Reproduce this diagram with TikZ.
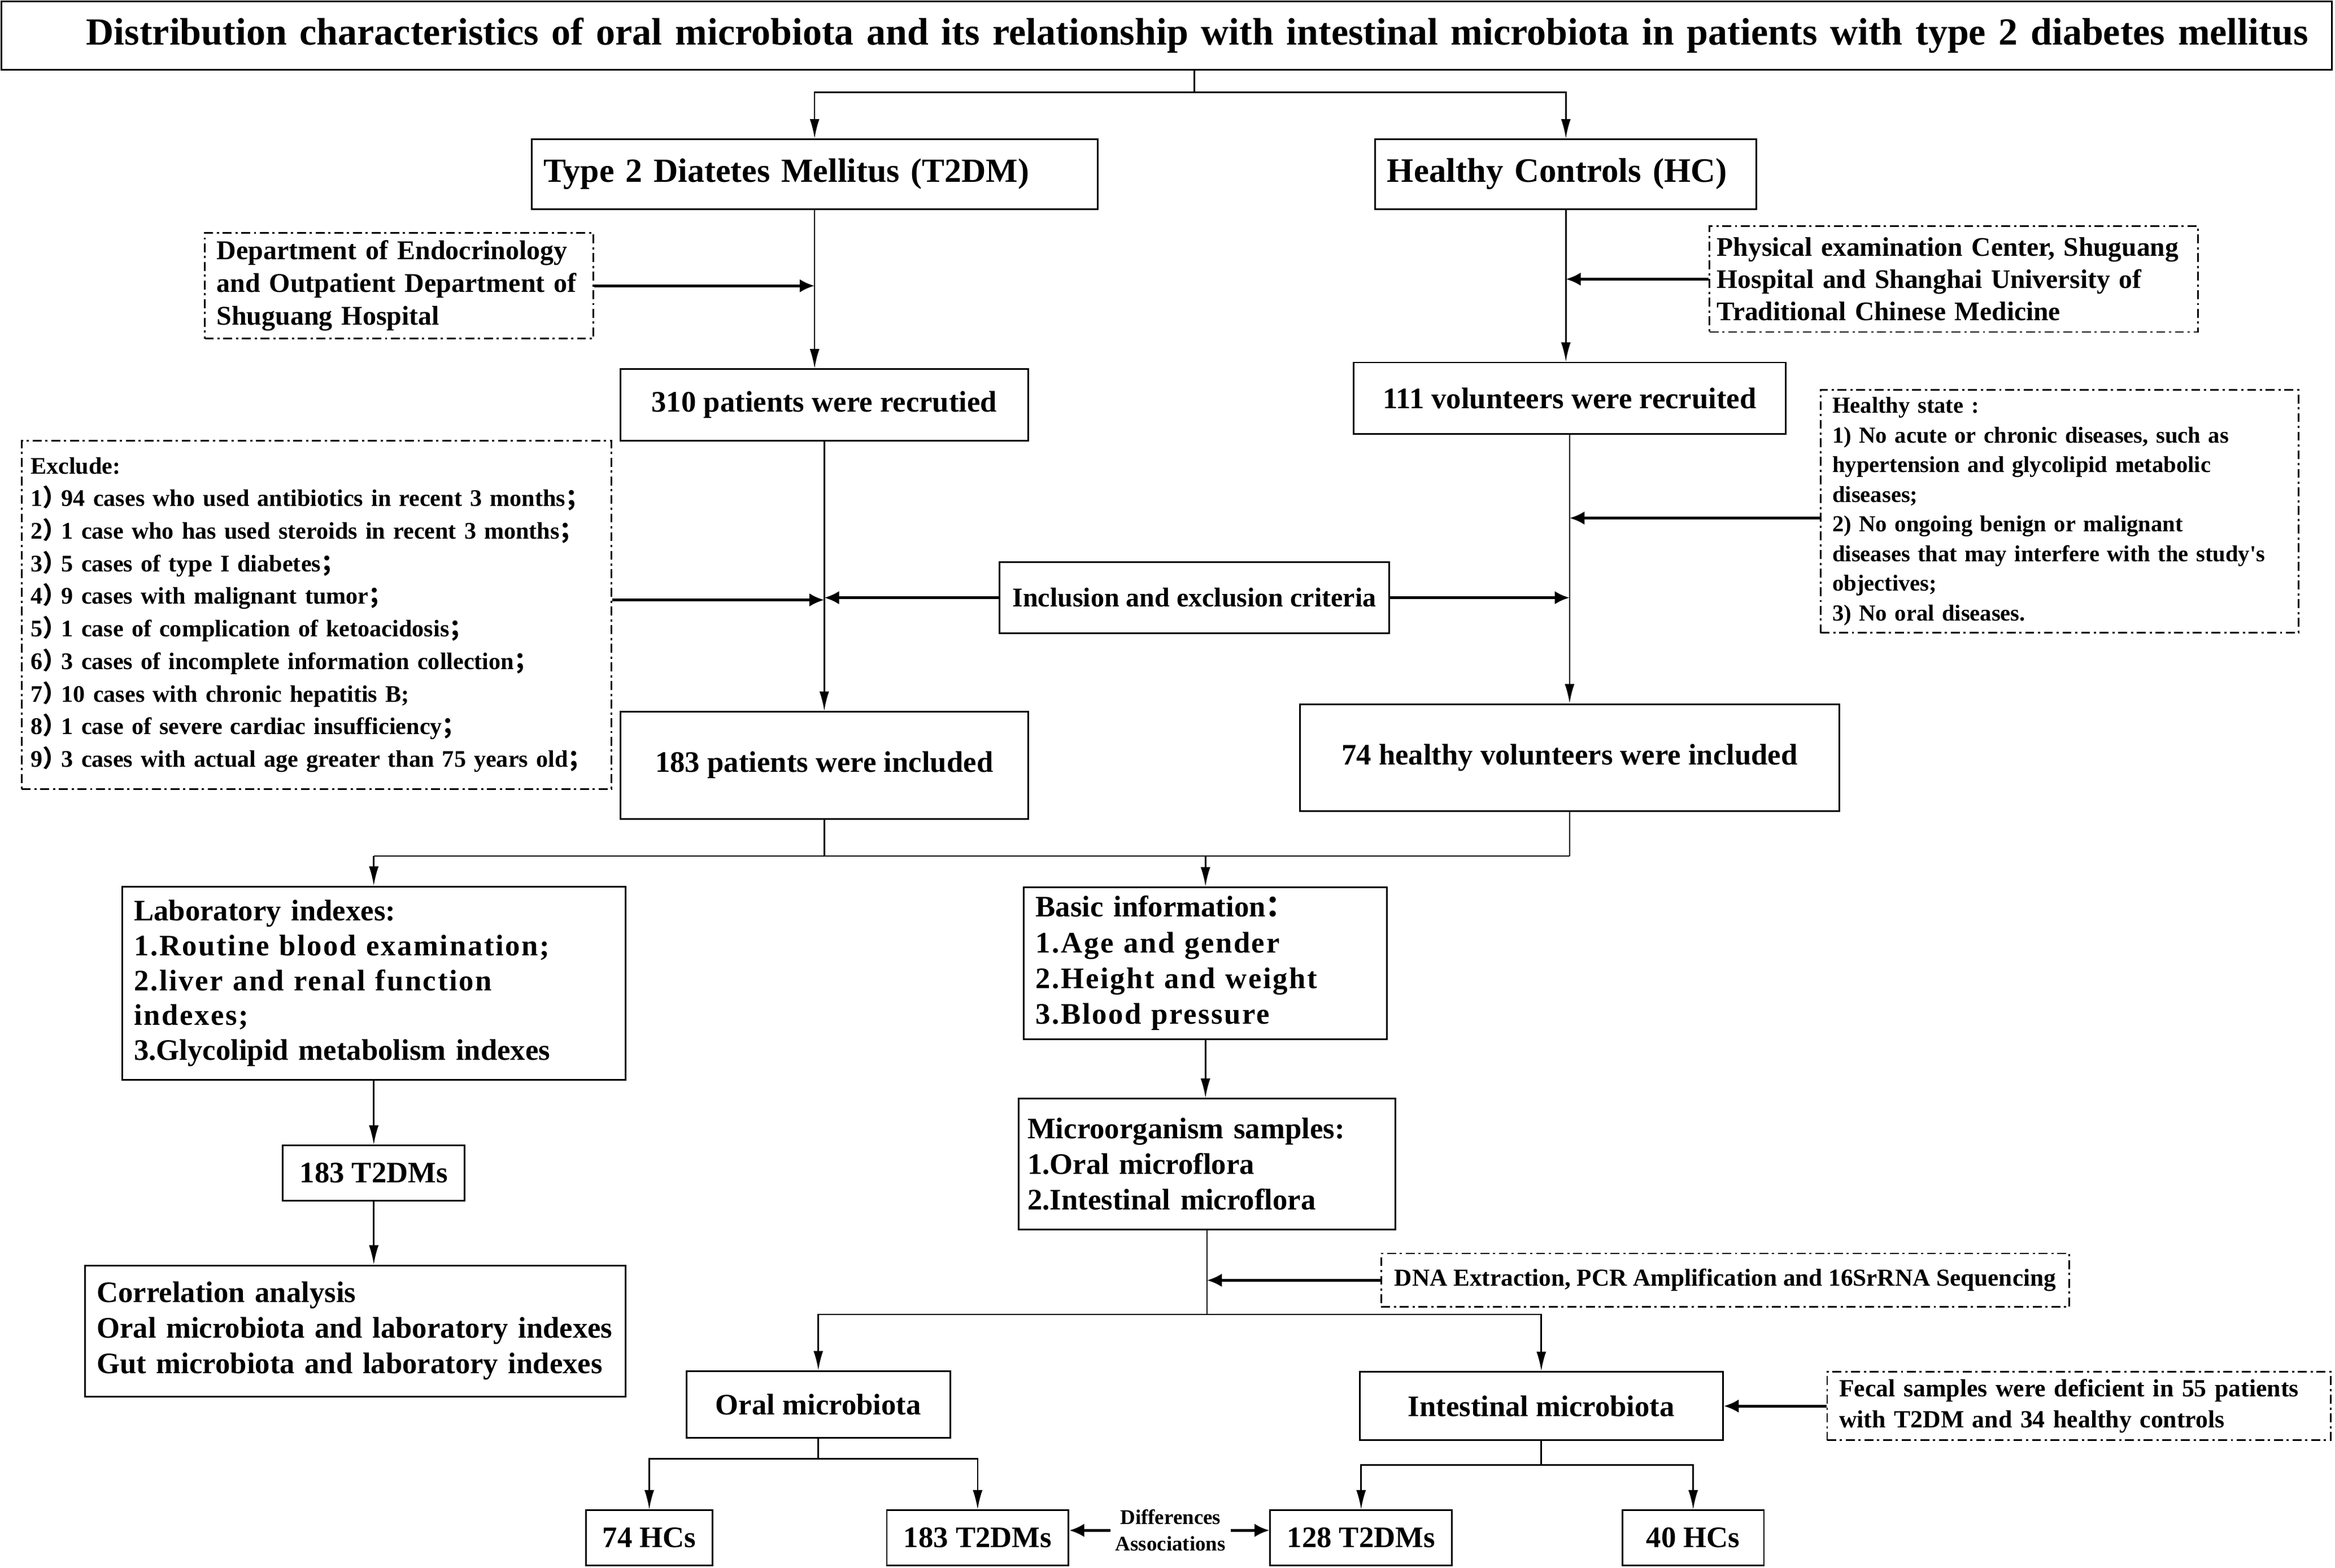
\documentclass[tikz,border=0pt]{standalone}
\usepackage{fontspec}
\setmainfont{Liberation Serif}
\newfontfamily\spc{Liberation Serif}[LetterSpace=5]
\newfontfamily\cjk{Noto Sans CJK SC}
\usetikzlibrary{arrows.meta}

\newcommand{\fs}[2]{\fontsize{#1}{#2}\selectfont\bfseries}
\newcommand{\rp}{{\cjk ）}\kern-0.2em}
\newcommand{\fsemi}{{\cjk ；}\kern-0.5em}
\newcommand{\fcolon}{{\cjk ：}\kern-0.4em}

\begin{document}
\begin{tikzpicture}[x=1pt,y=-1pt,
    box/.style={draw,line width=1.1pt,inner xsep=8pt,inner ysep=0pt,align=center},
    dbox/.style={box,dash pattern=on 6pt off 2.5pt on 1.5pt off 2.5pt},
    link/.style={line width=1pt},
    arr/.style={line width=1pt,-{Latex[length=13pt,width=6.5pt]}},
    sidearr/.style={line width=1.8pt,-{Latex[length=10pt,width=9pt]}}]

\useasboundingbox (0,0) rectangle (1568,1053);

% Draw the title and the two groups
\node[box,minimum width=1565pt,minimum height=46pt,text width=1533pt,align=right,inner xsep=16pt,font=\fs{25.8}{30}] (title) at (783.5,24)
    {\mbox{Distribution characteristics of oral microbiota and its relationship with intestinal microbiota in patients with type 2 diabetes mellitus}};
\node[box,minimum width=380pt,minimum height=47pt,text width=364pt,align=left,font=\fs{22.7}{26}] (t2dm) at (547,117) {Type 2 Diatetes Mellitus (T2DM)};
\node[box,minimum width=256pt,minimum height=47pt,text width=240pt,align=left,font=\fs{23}{26}] (hc) at (1051.5,117) {Healthy Controls (HC)};

% Draw the sources of the subjects
\node[dbox,minimum width=261pt,minimum height=71pt,text width=245pt,align=left,font=\fs{18.2}{22}] (dept) at (268,192)
    {Department of Endocrinology\\and Outpatient Department of\\Shuguang Hospital};
\node[dbox,minimum width=328pt,minimum height=71pt,text width=318pt,inner xsep=5pt,align=left,font=\fs{18}{21.5}] (phys) at (1312,187.5)
    {Physical examination Center, Shuguang\\Hospital and Shanghai University of\\Traditional Chinese Medicine};

% Draw the recruited and included subjects
\node[box,minimum width=274pt,minimum height=48pt,font=\fs{20}{24}] (rec1) at (553.5,272) {310 patients were recrutied};
\node[box,minimum width=290pt,minimum height=48pt,font=\fs{20}{24}] (rec2) at (1054,267.5) {111 volunteers were recruited};
\node[box,minimum width=262pt,minimum height=48pt,font=\fs{18.2}{22}] (crit) at (802,401.5) {Inclusion and exclusion criteria};
\node[box,minimum width=274pt,minimum height=72pt,font=\fs{20}{24}] (inc1) at (553.5,514) {183 patients were included};
\node[box,minimum width=362pt,minimum height=72pt,font=\fs{20}{24}] (inc2) at (1054,509) {74 healthy volunteers were included};

% Draw the criteria boxes
\node[dbox,minimum width=396pt,minimum height=234pt,text width=384pt,inner xsep=6pt,align=left,font=\fs{16}{21.9}] (excl) at (212.5,413)
    {Exclude:\\
     1\rp 94 cases who used antibiotics in recent 3 months\fsemi\\
     2\rp 1 case who has used steroids in recent 3 months\fsemi\\
     3\rp 5 cases of type I diabetes\fsemi\\
     4\rp 9 cases with malignant tumor\fsemi\\
     5\rp 1 case of complication of ketoacidosis\fsemi\\
     6\rp 3 cases of incomplete information collection\fsemi\\
     7\rp 10 cases with chronic hepatitis B;\\
     8\rp 1 case of severe cardiac insufficiency\fsemi\\
     9\rp 3 cases with actual age greater than 75 years old\fsemi};
\node[dbox,minimum width=321pt,minimum height=163pt,text width=305pt,align=left,font=\fs{15.4}{19.9}] (hstate) at (1383,343.5)
    {Healthy state :\\
     1) No acute or chronic diseases, such as\\
     hypertension and glycolipid metabolic\\
     diseases;\\
     2) No ongoing benign or malignant\\
     diseases that may interfere with the study\textquotesingle s\\
     objectives;\\
     3) No oral diseases.};

% Draw the collected data
\node[box,minimum width=338pt,minimum height=130pt,text width=322pt,align=left,font=\fs{20}{23.5}] (lab) at (251,660.5)
    {Laboratory indexes:\\{\spc 1.Routine blood examination;}\\{\spc 2.liver and renal function}\\{\spc indexes;}\\3.Glycolipid metabolism indexes};
\node[box,minimum width=244pt,minimum height=102pt,text width=228pt,align=left,font=\fs{20}{24}] (basic) at (809.5,647)
    {Basic information\fcolon\\{\spc 1.Age and gender}\\{\spc 2.Height and weight}\\{\spc 3.Blood pressure}};
\node[box,minimum width=122pt,minimum height=37pt,font=\fs{20}{24}] (labT) at (251,788) {183 T2DMs};
\node[box,minimum width=363pt,minimum height=88pt,text width=347pt,align=left,font=\fs{20}{24}] (corr) at (238.5,894)
    {Correlation analysis\\Oral microbiota and laboratory indexes\\Gut microbiota and laboratory indexes};
\node[box,minimum width=253pt,minimum height=88pt,text width=241pt,align=left,inner xsep=6pt,font=\fs{20}{24}] (micro) at (810.5,782)
    {Microorganism samples:\\1.Oral microflora\\2.Intestinal microflora};
\node[dbox,minimum width=462pt,minimum height=36pt,font=\fs{16.4}{20}] (dna) at (1158.5,860) {DNA Extraction, PCR Amplification and 16SrRNA Sequencing};

% Draw the microbiota groups
\node[box,minimum width=177pt,minimum height=45pt,font=\fs{20}{24}] (oral) at (549.5,943.5) {Oral microbiota};
\node[box,minimum width=244pt,minimum height=46pt,font=\fs{20}{24}] (intes) at (1035,944.5) {Intestinal microbiota};
\node[dbox,minimum width=338pt,minimum height=46pt,text width=322pt,align=left,font=\fs{16.6}{21}] (fecal) at (1396,944.5)
    {Fecal samples were deficient in 55 patients\\with T2DM and 34 healthy controls};
\node[box,minimum width=85pt,minimum height=37pt,font=\fs{20}{24}] (hc1) at (436,1033) {74 HCs};
\node[box,minimum width=122pt,minimum height=37pt,font=\fs{20}{24}] (t2a) at (656.5,1033) {183 T2DMs};
\node[box,minimum width=122pt,minimum height=37pt,font=\fs{20}{24}] (t2b) at (914,1033) {128 T2DMs};
\node[box,minimum width=95pt,minimum height=37pt,font=\fs{20}{24}] (hc2) at (1137,1033) {40 HCs};
\node[align=center,font=\fs{14}{18}] (rel) at (786,1028) {Differences\\Associations};

% Draw the arrows from the title to the groups
\coordinate (top) at (802,62);
\draw[link] (title.south -| top) -- (top);
\draw[arr] (top) -| (t2dm.north);
\draw[arr] (top) -| (hc.north);

% Draw the recruitment path
\draw[arr] (t2dm.south) -- (t2dm.south |- rec1.north);
\draw[arr] (hc.south) -- (hc.south |- rec2.north);
\draw[sidearr] (dept.east) -- (dept.east -| t2dm.south);
\draw[sidearr] (phys.west) -- (phys.west -| hc.south);
\draw[arr] (rec1.south) -- (rec1.south |- inc1.north);
\draw[arr] (rec2.south) -- (rec2.south |- inc2.north);
\draw[sidearr] (excl.east |- 0,403) -- (rec1.south |- 0,403);
\draw[sidearr] (crit.west) -- (crit.west -| rec1.south);
\draw[sidearr] (crit.east) -- (crit.east -| rec2.south);
\draw[sidearr] (hstate.west |- 0,348) -- (rec2.south |- 0,348);

% Draw the merge into the collected data
\coordinate (mid) at (810,575);
\draw[link] (inc1.south) -- (inc1.south |- mid);
\draw[link] (inc2.south) -- (inc2.south |- mid);
\draw[link] (lab.north |- mid) -- (inc2.south |- mid);
\draw[arr] (lab.north |- mid) -- (lab.north);
\draw[arr] (basic.north |- mid) -- (basic.north);
\draw[arr] (lab.south) -- (labT.north);
\draw[arr] (labT.south) -- (labT.south |- corr.north);
\draw[arr] (basic.south) -- (basic.south |- micro.north);

% Draw the split into oral and intestinal microbiota
\coordinate (msplit) at (810.5,883);
\draw[link] (micro.south) -- (msplit);
\draw[arr] (msplit) -| (oral.north);
\draw[arr] (msplit) -| (intes.north);
\draw[sidearr] (dna.west) -- (dna.west -| micro.south);
\draw[sidearr] (fecal.west) -- (intes.east);

% Draw the last row
\coordinate (osplit) at (549.5,980);
\coordinate (isplit) at (1035,984);
\draw[link] (oral.south) -- (osplit);
\draw[link] (intes.south) -- (isplit);
\foreach \s/\t in {osplit/hc1,osplit/t2a,isplit/t2b,isplit/hc2} {
    \draw[arr] (\s) -| (\t.north);
}
\draw[sidearr] (rel.west) -- (rel.west -| t2a.east);
\draw[sidearr] (rel.east) -- (rel.east -| t2b.west);

\end{tikzpicture}
\end{document}
